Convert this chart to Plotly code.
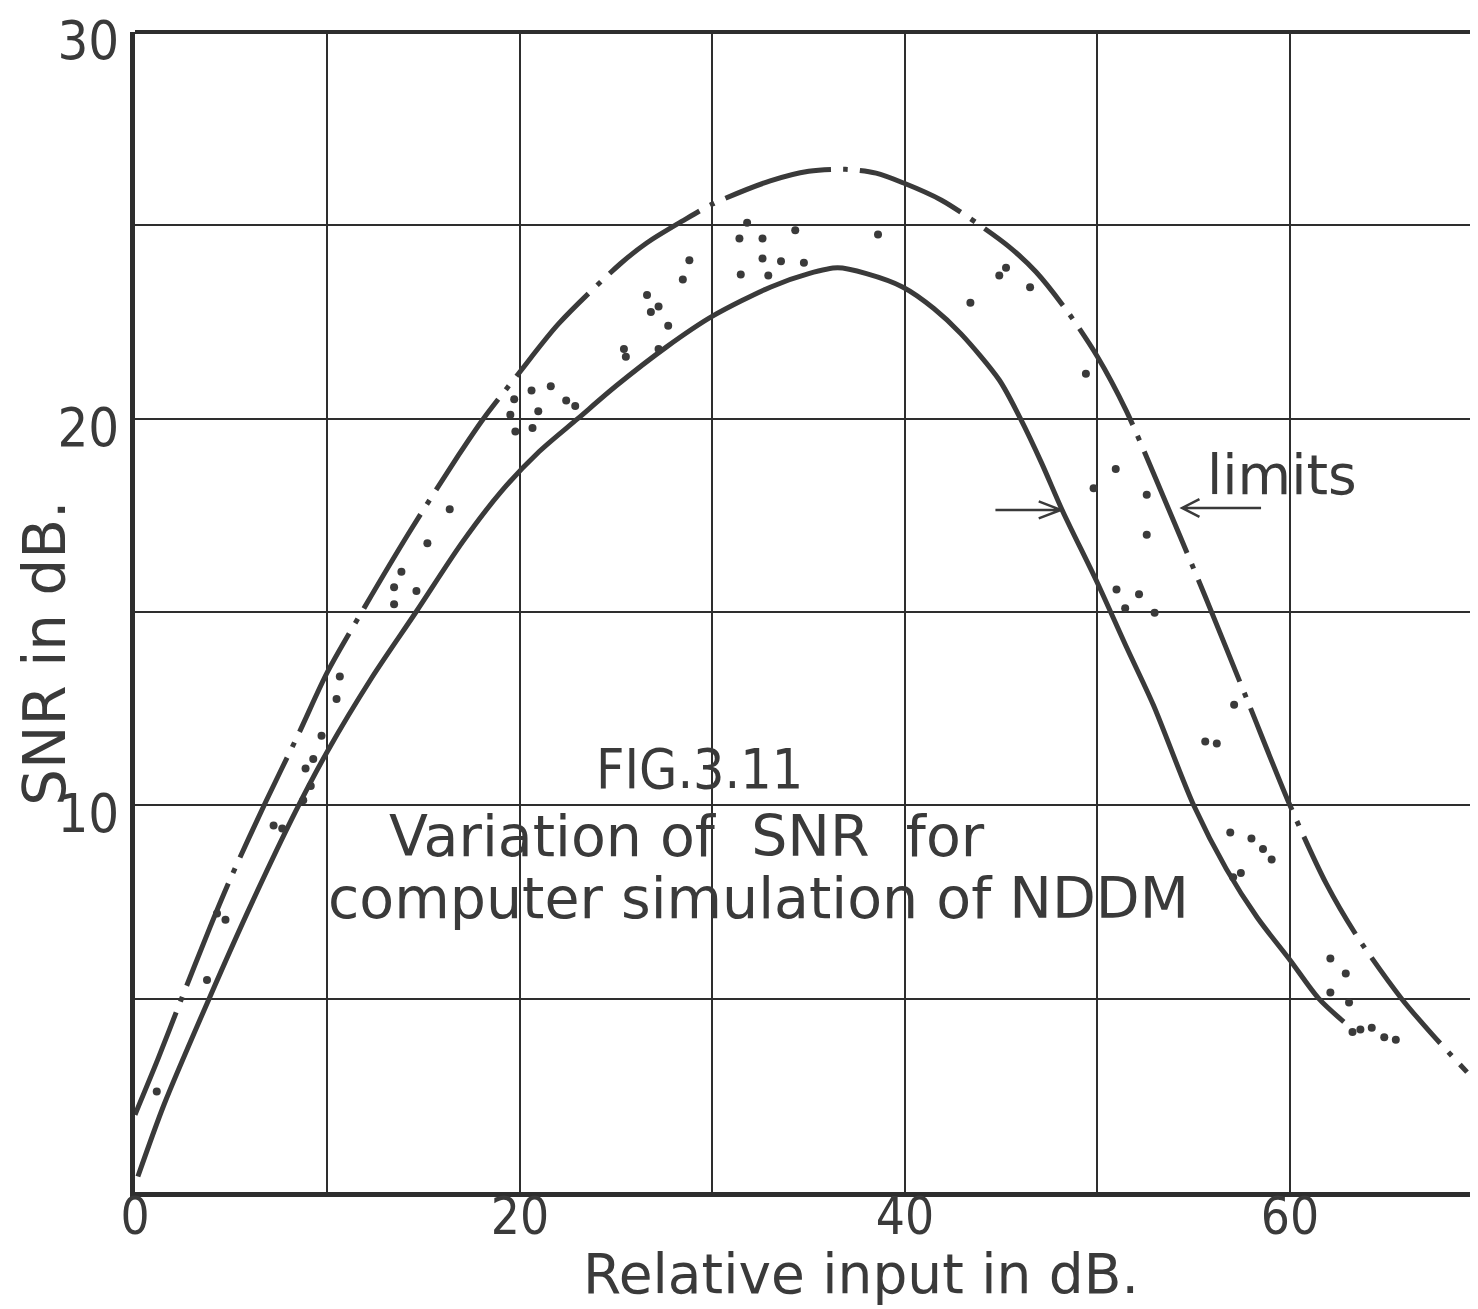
import plotly.graph_objects as go

# ---- data ----
upper_x = [0.0, 1.2, 2.3, 3.9, 5.0, 6.8, 8.5, 10.0, 11.9, 14.3, 16.8, 18.1, 19.9, 22.0,
           25.2, 26.6, 28.4, 30.0, 33.0, 35.0, 36.9, 38.5, 39.9, 41.9, 43.9, 45.4, 46.8,
           48.4, 50.0, 51.5, 52.9, 55.6, 57.8, 60.0, 61.9, 63.5, 65.8, 67.4, 69.2]
upper_y = [2.0, 3.45, 4.85, 6.85, 8.15, 10.1, 11.85, 13.45, 15.1, 17.1, 19.05, 20.0, 21.15, 22.45,
           24.0, 24.55, 25.1, 25.55, 26.15, 26.4, 26.45, 26.35, 26.1, 25.65, 25.0, 24.45, 23.8,
           22.8, 21.6, 20.2, 18.6, 15.4, 12.7, 10.0, 7.96, 6.6, 5.0, 4.07, 3.1]

lower_x = [0.15, 1.5, 3.85, 6.0, 8.35, 10.0, 12.3, 14.6, 17.0, 19.0, 21.0, 23.0, 25.0,
           27.6, 30.0, 33.0, 35.0, 36.5, 38.0, 39.9, 41.5, 42.9, 44.9, 46.0, 47.1, 48.2,
           50.0, 51.5, 52.9, 55.0, 56.7, 58.3, 60.0, 61.5, 62.8]
lower_y = [0.4, 2.25, 5.0, 7.4, 9.85, 11.4, 13.3, 15.0, 16.8, 18.1, 19.15, 20.0, 20.85,
           21.85, 22.65, 23.4, 23.75, 23.9, 23.75, 23.4, 22.85, 22.2, 21.0, 20.0, 18.85, 17.6,
           15.75, 14.1, 12.6, 10.0, 8.35, 7.1, 6.0, 5.0, 4.4]

sim_x = [1.13, 3.74, 4.26, 4.7, 7.2, 7.65,
         8.74, 9.13, 8.86, 9.26, 9.69, 10.47, 10.64,
         13.46, 13.46, 14.62, 13.84, 15.19, 16.35,
         19.5, 19.7, 19.76, 20.6, 20.95, 20.65, 21.6, 22.4, 22.87,
         25.4, 25.5, 27.2, 27.7, 26.6, 26.8, 27.2, 28.46, 28.8,
         31.4, 31.8, 32.6, 34.3, 38.6, 32.6, 33.56, 34.75, 31.47, 32.9,
         43.4, 44.9, 45.25, 46.5, 49.4,
         50.95, 49.8, 52.56, 52.56, 50.99, 52.16, 51.44, 52.97,
         57.1, 55.6, 56.2,
         56.9, 58.0, 58.6, 59.05, 57.05, 57.45,
         62.1, 62.9, 62.1, 63.07, 63.25, 63.66, 64.25, 64.9, 65.5]
sim_y = [2.6, 5.48, 7.2, 7.04, 9.48, 9.4,
         10.13, 10.5, 10.95, 11.2, 11.8, 12.75, 13.33,
         15.2, 15.64, 15.54, 16.04, 16.78, 17.66,
         20.1, 20.5, 19.67, 20.73, 20.19, 19.76, 20.84, 20.47, 20.33,
         21.8, 21.6, 21.8, 22.4, 23.2, 22.76, 22.9, 23.6, 24.1,
         24.66, 25.07, 24.66, 24.87, 24.76, 24.14, 24.07, 24.03, 23.73, 23.7,
         23.0, 23.7, 23.9, 23.4, 21.16,
         18.7, 18.2, 18.03, 17.0, 15.58, 15.46, 15.1, 14.98,
         12.6, 11.65, 11.6,
         9.3, 9.14, 8.87, 8.6, 8.14, 8.25,
         6.04, 5.65, 5.16, 4.9, 4.14, 4.2, 4.25, 4.0, 3.94]

x_ticks = [0, 10, 20, 30, 40, 50, 60, 70]
x_labels = ["0", "", "20", "", "40", "", "60", ""]
y_ticks = [0, 5, 10, 15, 20, 25, 30]
y_labels = ["", "", "10", "", "20", "", "30"]

INK = "#3a3a3a"
GRID = "#2e2e2e"
FONT = "DejaVu Sans"
FONT_C = "DejaVu Sans Condensed"

fig = go.Figure()
fig.add_trace(go.Scatter(x=upper_x, y=upper_y, mode="lines",
                         line=dict(color=INK, width=5, dash="110px,12px,5px,12px",
                                   shape="spline", smoothing=0.8),
                         name="upper limit", showlegend=False))
fig.add_trace(go.Scatter(x=lower_x, y=lower_y, mode="lines",
                         line=dict(color=INK, width=5, shape="spline", smoothing=0.8),
                         name="lower limit", showlegend=False))
fig.add_trace(go.Scatter(x=sim_x, y=sim_y, mode="markers",
                         marker=dict(color=INK, size=8),
                         name="simulation", showlegend=False))

# page body has an 8px margin: figure is 1470x1301 so that the plot area sits at
# x 135..1478, y 32..1192 in the window
fig.update_layout(
    width=1470, height=1301,
    margin=dict(l=127, r=0, t=24, b=117, autoexpand=False),
    paper_bgcolor="white", plot_bgcolor="white",
    font=dict(family=FONT, color=INK),
    xaxis=dict(range=[0, 69.77], tickmode="array", tickvals=x_ticks, ticktext=x_labels,
               showgrid=True, gridcolor=GRID, gridwidth=2, zeroline=False,
               showline=True, linecolor=GRID, linewidth=5, ticks="", automargin=False,
               tickfont=dict(family=FONT_C, size=51, color=INK),
               ticklabelstandoff=-24, ticklabeloverflow="allow"),
    yaxis=dict(range=[0, 30], tickmode="array", tickvals=y_ticks, ticktext=y_labels,
               showgrid=True, gridcolor=GRID, gridwidth=2, zeroline=False,
               showline=True, linecolor=GRID, linewidth=5, ticks="", automargin=False,
               tickfont=dict(family=FONT_C, size=54, color=INK),
               ticklabelstandoff=0, ticklabelshift=8, ticklabeloverflow="allow"),
)

# top border of the frame
fig.add_shape(type="line", xref="paper", yref="paper", x0=0, x1=1, y0=1, y1=1,
              line=dict(color=GRID, width=4))

# axis titles (placed where the reference has them)
fig.add_annotation(xref="paper", yref="paper", x=0.5406, y=-0.1, xanchor="center",
                   yanchor="bottom", text="Relative input in dB.", showarrow=False,
                   font=dict(family=FONT, size=55, color=INK))
fig.add_annotation(xref="paper", yref="paper", x=-0.067, y=0.464, xanchor="center",
                   yanchor="middle", textangle=-90, text="SNR in dB.", showarrow=False,
                   font=dict(family=FONT, size=58, color=INK))

ann_font = dict(family=FONT, size=57, color=INK)
fig.add_annotation(x=29.35, y=10.95, text="FIG.3.11", showarrow=False,
                   font=dict(family=FONT_C, size=55, color=INK))
fig.add_annotation(x=28.7, y=9.2, text="Variation of  SNR  for", showarrow=False, font=ann_font)
fig.add_annotation(x=32.4, y=7.6, text="computer simulation of NDDM", showarrow=False, font=ann_font)
fig.add_annotation(x=59.6, y=18.55, text="limits", showarrow=False,
                   font=dict(family=FONT, size=55, color=INK))

# open-headed arrows pointing at the two limit curves
fig.add_shape(type="path", xref="x", yref="y",
              path="M 44.7,17.64 L 48.1,17.64 M 46.95,17.86 L 48.1,17.64 L 46.95,17.42",
              line=dict(color=INK, width=2.5))
fig.add_shape(type="path", xref="x", yref="y",
              path="M 58.5,17.69 L 54.4,17.69 M 55.3,17.92 L 54.4,17.69 L 55.3,17.46",
              line=dict(color=INK, width=2.5))

fig.write_html("out.html")
